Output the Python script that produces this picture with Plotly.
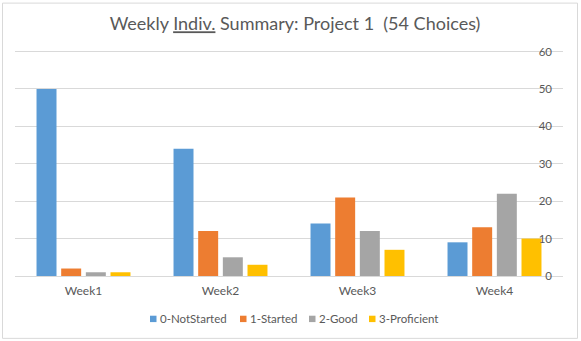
import plotly.graph_objects as go

# Weekly counts of individual ratings for Project 1
weeks = ["Week1", "Week2", "Week3", "Week4"]
not_started = [50, 34, 14, 9]
started = [2, 12, 21, 13]
good = [1, 5, 12, 22]
proficient = [1, 3, 7, 10]

series_names = ["0-NotStarted", "1-Started", "2-Good", "3-Proficient"]
series_values = [not_started, started, good, proficient]
series_colors = ["#5B9BD5", "#ED7D31", "#A5A5A5", "#FFC000"]

y_ticks = [0, 10, 20, 30, 40, 50, 60]
y_top = 60.4  # small headroom so the 60 gridline is kept

FONT = "Lato, 'Open Sans', sans-serif"
TEXT_COLOR = "#595959"
GRID_COLOR = "#D9D9D9"

W, H = 581, 341
PX_PER_UNIT = 3.75
L, R, B = 15, 18, 65
T = (H - B) - y_top * PX_PER_UNIT
plot_w = W - L - R
plot_h = H - T - B


def px_to_paper_x(px):
    return (px - L) / plot_w


def px_to_paper_y(py):
    return (H - B - py) / plot_h


fig = go.Figure()
for name, vals, color in zip(series_names, series_values, series_colors):
    fig.add_trace(go.Bar(
        x=weeks, y=vals, name=name,
        marker=dict(color=color, line=dict(width=0)),
        showlegend=False,
    ))

# Legend drawn as small colour squares with labels underneath the plot
legend_square_left = [150, 240, 309, 369]
legend_y = 319
for name, color, sx in zip(series_names, series_colors, legend_square_left):
    fig.add_shape(
        type="rect", xref="paper", yref="paper",
        x0=px_to_paper_x(sx), x1=px_to_paper_x(sx + 6.5),
        y0=px_to_paper_y(legend_y + 3.2), y1=px_to_paper_y(legend_y - 3.2),
        fillcolor=color, line=dict(width=0),
    )
    fig.add_annotation(
        text=name, xref="paper", yref="paper",
        x=px_to_paper_x(sx + 7.5), y=px_to_paper_y(legend_y),
        xanchor="left", yanchor="middle", showarrow=False,
        font=dict(family=FONT, size=11.5, color=TEXT_COLOR),
    )

# Outer chart border
fig.add_shape(
    type="rect", xref="paper", yref="paper",
    x0=px_to_paper_x(2.5), x1=px_to_paper_x(577.5),
    y0=px_to_paper_y(338.5), y1=px_to_paper_y(2.5),
    line=dict(color=GRID_COLOR, width=1), fillcolor="rgba(0,0,0,0)",
)

fig.update_layout(
    width=W, height=H,
    margin=dict(l=L, r=R, t=T, b=B, pad=0),
    paper_bgcolor="white", plot_bgcolor="white",
    barmode="group", bargap=0.28, bargroupgap=0.19,
    title=dict(
        text="Weekly <u>Indiv.</u> Summary: Project 1  (54 Choices)",
        x=295 / W, xref="container", xanchor="center",
        y=1 - 24 / H, yref="container", yanchor="middle",
        font=dict(family=FONT, size=18, color=TEXT_COLOR),
    ),
    xaxis=dict(
        showgrid=False, showline=False, ticks="",
        tickfont=dict(family=FONT, size=12, color=TEXT_COLOR),
        ticklabelstandoff=6,
    ),
    yaxis=dict(
        # value labels sit just inside the right end of the gridlines
        side="left", anchor="free", position=px_to_paper_x(552),
        range=[0, y_top], tickvals=y_ticks,
        ticks="", ticklabelstandoff=0, automargin=False,
        showgrid=True, gridcolor=GRID_COLOR, gridwidth=1,
        zeroline=True, zerolinecolor=GRID_COLOR, zerolinewidth=1,
        showline=False,
        tickfont=dict(family=FONT, size=11.5, color=TEXT_COLOR),
    ),
    font=dict(family=FONT, color=TEXT_COLOR),
)

fig.write_html("out.html")
